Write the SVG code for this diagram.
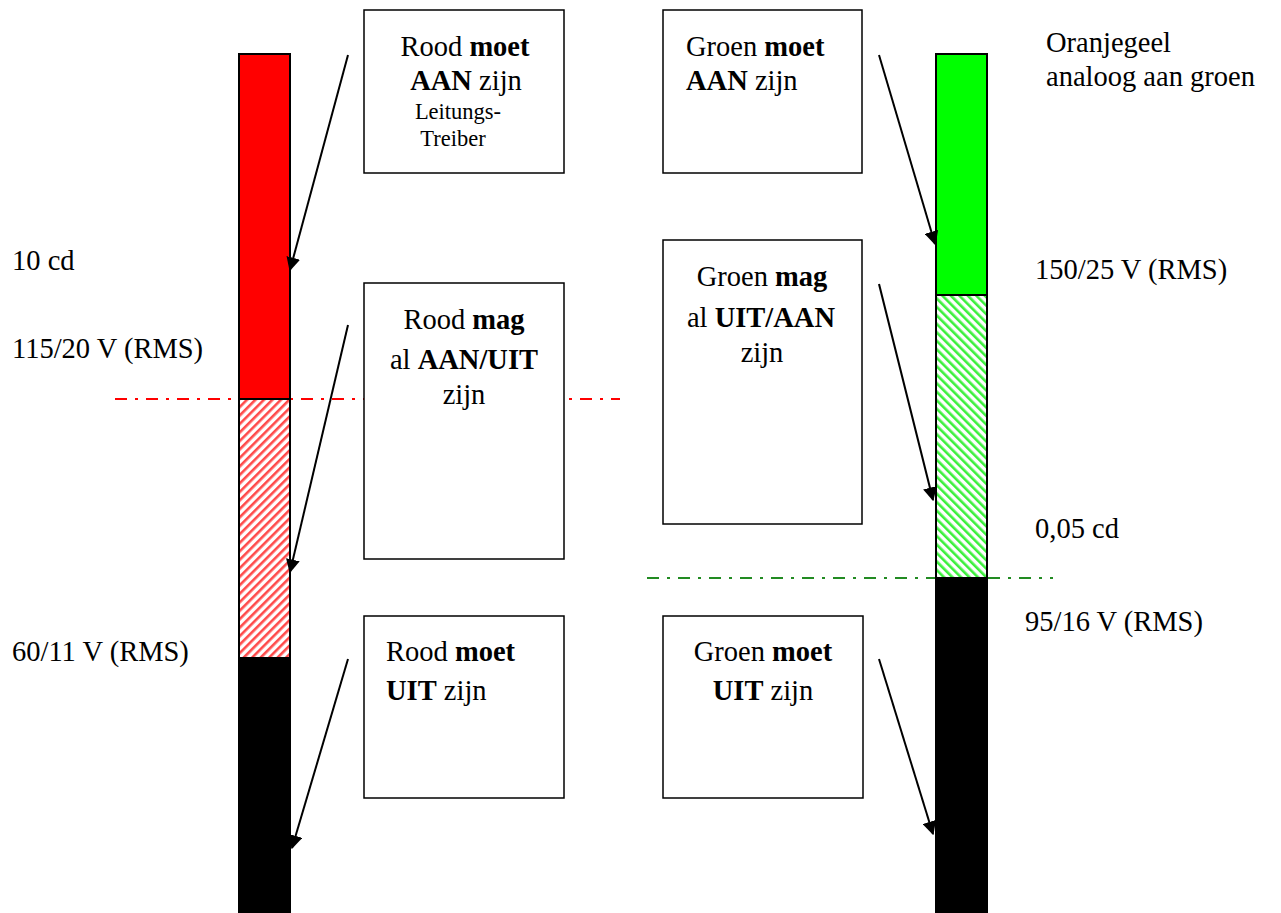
<svg xmlns="http://www.w3.org/2000/svg" width="1281" height="913" viewBox="0 0 1281 913">
  <style>
    text { font-family: "Liberation Serif", "Times New Roman", serif; font-size: 28.5px; fill: #000; }
    .b { font-weight: bold; }
    .sm { font-size: 22.5px; }
    .mid { text-anchor: middle; }
    .box { fill: #fff; stroke: #000; stroke-width: 1.5; }
    .bar { stroke: #000; stroke-width: 2; }
    .arrow { stroke: #000; stroke-width: 2; fill: none; marker-end: url(#head); }
    .dashdot { stroke-width: 2; fill: none; stroke-dasharray: 12 8 3 8; }
  </style>
  <defs>
    <marker id="head" viewBox="0 0 10 10" refX="9" refY="5" markerWidth="14" markerHeight="14" markerUnits="userSpaceOnUse" orient="auto">
      <path d="M0,0 L10,5 L0,10 z" fill="#000"/>
    </marker>
    <pattern id="hatchRed" width="6" height="6" patternUnits="userSpaceOnUse" patternTransform="rotate(45)">
      <rect width="6" height="6" fill="#fff"/>
      <rect width="2.6" height="6" fill="#ff4a4a"/>
    </pattern>
    <pattern id="hatchGreen" width="6" height="6" patternUnits="userSpaceOnUse" patternTransform="rotate(-45)">
      <rect width="6" height="6" fill="#fff"/>
      <rect width="2.6" height="6" fill="#3cf03c"/>
    </pattern>
  </defs>

  <!-- threshold lines (drawn first so boxes cover them) -->
  <g id="thresholds">
    <line class="dashdot" x1="115" y1="399" x2="620" y2="399" stroke="#f00"/>
    <line class="dashdot" x1="647" y1="578" x2="1053" y2="578" stroke="#228b22"/>
  </g>

  <!-- red signal bar -->
  <g id="bar-red">
    <rect class="bar" x="239" y="54" width="51" height="345" fill="#f00"/>
    <rect class="bar" x="239" y="399" width="51" height="259" fill="url(#hatchRed)"/>
    <rect class="bar" x="239" y="658" width="51" height="260" fill="#000"/>
  </g>

  <!-- green signal bar -->
  <g id="bar-green">
    <rect class="bar" x="936" y="54" width="51" height="241" fill="#0f0"/>
    <rect class="bar" x="936" y="295" width="51" height="283" fill="url(#hatchGreen)"/>
    <rect class="bar" x="936" y="578" width="51" height="340" fill="#000"/>
  </g>

  <!-- level labels -->
  <g id="labels">
    <text x="12" y="270">10 cd</text>
    <text x="12" y="358">115/20 V (RMS)</text>
    <text x="12" y="661">60/11 V (RMS)</text>
    <text x="1046" y="52">Oranjegeel</text>
    <text x="1046" y="86">analoog aan groen</text>
    <text x="1035" y="279">150/25 V (RMS)</text>
    <text x="1035" y="538">0,05 cd</text>
    <text x="1025" y="631">95/16 V (RMS)</text>
  </g>

  <g id="box-rood-aan">
    <rect class="box" x="364" y="10" width="200" height="163"/>
    <text class="mid" x="465" y="56">Rood <tspan class="b">moet</tspan></text>
    <text class="mid" x="466" y="90"><tspan class="b">AAN</tspan> zijn</text>
    <text class="mid sm" x="458" y="119">Leitungs-</text>
    <text class="mid sm" x="453" y="146">Treiber</text>
  </g>

  <g id="box-groen-aan">
    <rect class="box" x="663" y="10" width="199" height="163"/>
    <text x="686" y="56">Groen <tspan class="b">moet</tspan></text>
    <text x="686" y="90"><tspan class="b">AAN</tspan> zijn</text>
  </g>

  <g id="box-rood-mag">
    <rect class="box" x="364" y="283" width="200" height="276"/>
    <text class="mid" x="464" y="329">Rood <tspan class="b">mag</tspan></text>
    <text class="mid" x="464" y="369">al <tspan class="b">AAN/UIT</tspan></text>
    <text class="mid" x="464" y="404">zijn</text>
  </g>

  <g id="box-groen-mag">
    <rect class="box" x="663" y="240" width="199" height="284"/>
    <text class="mid" x="762" y="286">Groen <tspan class="b">mag</tspan></text>
    <text class="mid" x="761" y="327">al <tspan class="b">UIT/AAN</tspan></text>
    <text class="mid" x="762" y="362">zijn</text>
  </g>

  <g id="box-rood-uit">
    <rect class="box" x="364" y="616" width="200" height="182"/>
    <text x="386" y="661">Rood <tspan class="b">moet</tspan></text>
    <text x="386" y="700"><tspan class="b">UIT</tspan> zijn</text>
  </g>

  <g id="box-groen-uit">
    <rect class="box" x="663" y="616" width="200" height="182"/>
    <text class="mid" x="763" y="661">Groen <tspan class="b">moet</tspan></text>
    <text class="mid" x="763" y="700"><tspan class="b">UIT</tspan> zijn</text>
  </g>

  <!-- connectors -->
  <g id="connectors">
    <line class="arrow" x1="348" y1="55" x2="290" y2="270"/>
    <line class="arrow" x1="348" y1="325" x2="290" y2="572"/>
    <line class="arrow" x1="348" y1="659" x2="292" y2="848"/>
    <line class="arrow" x1="879" y1="55" x2="935" y2="244"/>
    <line class="arrow" x1="879" y1="284" x2="933" y2="500"/>
    <line class="arrow" x1="879" y1="659" x2="933" y2="834"/>
  </g>
</svg>
